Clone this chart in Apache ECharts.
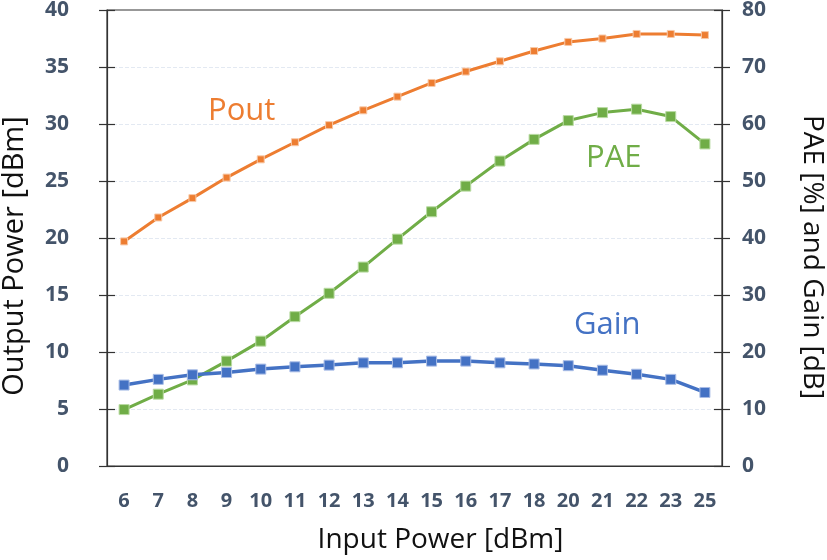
<!DOCTYPE html>
<html><head><meta charset="utf-8">
<script src="https://cdn.jsdelivr.net/npm/echarts@6/dist/echarts.min.js"></script>
<style>html,body{margin:0;padding:0;background:#fff}#c{width:827px;height:560px}</style>
</head><body><div id="c"></div>
<script>
const categories = ['6','7','8','9','10','11','12','13','14','15','16','17','18','20','21','22','23','25'];
const pout = [19.7,21.8,23.5,25.3,26.9,28.4,29.9,31.2,32.4,33.6,34.6,35.5,36.4,37.2,37.5,37.9,37.9,37.8];
const pae  = [9.9,12.6,15.1,18.4,21.9,26.2,30.3,34.9,39.8,44.6,49.1,53.5,57.3,60.6,62.0,62.6,61.3,56.5];
const gain = [14.2,15.2,16.0,16.4,17.0,17.4,17.7,18.1,18.1,18.4,18.4,18.1,17.9,17.6,16.8,16.1,15.2,12.9];
const leftTicks = [0,5,10,15,20,25,30,35,40];
const rightTicks = [0,10,20,30,40,50,60,70,80];

const FONT = 'Open Sans';
const labelColor = '#44546A';
const chart = echarts.init(document.getElementById('c'));
const tickStyle = {color:'#333', width:1.2};
chart.setOption({
  animation:false,
  grid:{left:107,right:105,top:10,bottom:94,show:true,borderColor:'#333',borderWidth:1.2,
        containLabel:false,outerBoundsMode:'none'},
  xAxis:[{
    type:'category', data:categories, boundaryGap:true,
    axisLine:{lineStyle:{color:'#333',width:1.2}},
    axisTick:{alignWithLabel:true,length:6,lineStyle:tickStyle},
    axisLabel:{margin:25,color:labelColor,fontFamily:FONT,fontWeight:'bold',fontSize:20},
    name:'Input Power [dBm]', nameLocation:'middle', nameGap:60,
    nameTextStyle:{fontFamily:FONT,fontSize:28,color:'#111',padding:[0,0,0,52]}
  },{
    type:'category', data:categories, boundaryGap:true, position:'bottom',
    axisLine:{show:false}, axisLabel:{show:false},
    axisTick:{alignWithLabel:true,inside:true,length:6,lineStyle:tickStyle}
  }],
  yAxis:[{
    type:'value', min:0, max:40, interval:5, position:'left',
    axisLine:{show:true,lineStyle:{color:'#333',width:1.2}},
    axisTick:{show:true,length:8,lineStyle:tickStyle},
    axisLabel:{margin:38,color:labelColor,fontFamily:FONT,fontWeight:'bold',fontSize:21,
      formatter:v=>leftTicks.includes(v)?String(v):''},
    splitLine:{show:true,showMinLine:false,showMaxLine:false,lineStyle:{color:'#e3e9f2',type:'dashed',width:1}},
    name:'Output Power [dBm]', nameLocation:'middle', nameGap:78,
    nameTextStyle:{fontFamily:FONT,fontSize:29,color:'#111',padding:[0,36,0,0]}
  },{
    type:'value', min:0, max:80, interval:10, position:'right',
    axisLine:{show:true,lineStyle:{color:'#333',width:1.2}},
    axisTick:{show:true,length:8,lineStyle:tickStyle},
    axisLabel:{margin:20,color:labelColor,fontFamily:FONT,fontWeight:'bold',fontSize:21,
      formatter:v=>rightTicks.includes(v)?String(v):''},
    splitLine:{show:false},
    name:'PAE [%] and Gain [dB]', nameLocation:'middle', nameGap:76, nameRotate:-90,
    nameTextStyle:{fontFamily:FONT,fontSize:28,color:'#111',padding:[0,0,0,38]}
  },{
    type:'value', min:0, max:40, interval:5, position:'left',
    axisLine:{show:false}, axisLabel:{show:false}, splitLine:{show:false},
    axisTick:{show:true,inside:true,length:8,lineStyle:tickStyle}
  },{
    type:'value', min:0, max:80, interval:10, position:'right',
    axisLine:{show:false}, axisLabel:{show:false}, splitLine:{show:false},
    axisTick:{show:true,inside:true,length:8,lineStyle:tickStyle}
  }],
  series:[{
    name:'Pout', type:'line', yAxisIndex:0, data:pout,
    symbol:'rect', symbolSize:7,
    lineStyle:{color:'#ED7D31',width:3},
    itemStyle:{color:'#ED7D31',borderColor:'#f8c9a8',borderWidth:1}
  },{
    name:'PAE', type:'line', yAxisIndex:1, data:pae,
    symbol:'rect', symbolSize:10,
    lineStyle:{color:'#70AD47',width:3},
    itemStyle:{color:'#70AD47',borderColor:'#b9dba3',borderWidth:1}
  },{
    name:'Gain', type:'line', yAxisIndex:1, data:gain,
    symbol:'rect', symbolSize:10,
    lineStyle:{color:'#4472C4',width:3.5},
    itemStyle:{color:'#4472C4',borderColor:'#a9bde6',borderWidth:1}
  }],
  graphic:[
    {type:'text',left:208,top:96,style:{text:'Pout',font:'31px "Open Sans"',fill:'#ED7D31'}},
    {type:'text',left:586,top:143,style:{text:'PAE',font:'31px "Open Sans"',fill:'#70AD47'}},
    {type:'text',left:574,top:310,style:{text:'Gain',font:'31px "Open Sans"',fill:'#4472C4'}}
  ]
});
</script></body></html>
